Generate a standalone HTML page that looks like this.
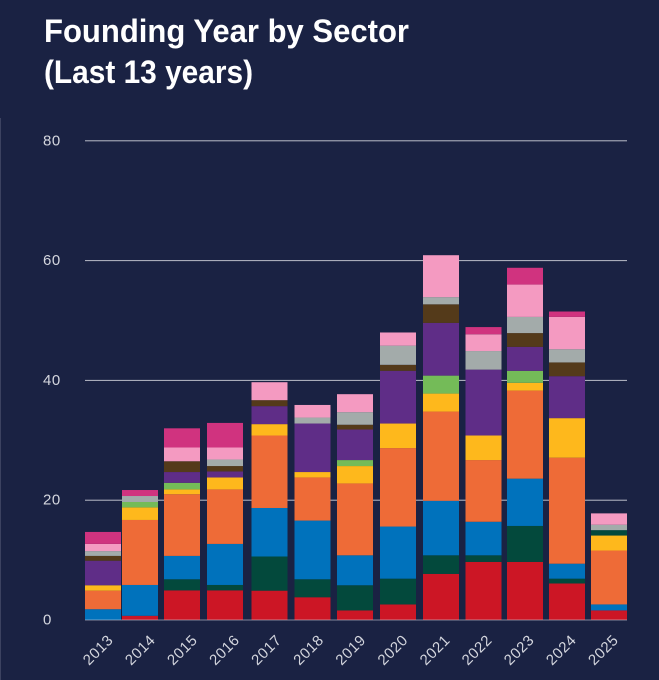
<!DOCTYPE html>
<html lang="en">
<head>
<meta charset="utf-8">
<title>Founding Year by Sector</title>
<style>
  html, body { margin: 0; padding: 0; background: #1a2243; }
  body { width: 659px; height: 680px; overflow: hidden; position: relative; }
  svg { display: block; position: absolute; left: 0; top: 0; }
  text { font-family: "Liberation Sans", sans-serif; }
  .chart-title { font-size: 32px; font-weight: 700; fill: #ffffff; }
  .tick-label { font-size: 15px; letter-spacing: 0.5px; fill: #d4d6de; }
</style>
</head>
<body>
<svg id="chart" width="659" height="680" viewBox="0 0 659 680" xmlns="http://www.w3.org/2000/svg">
  <rect x="0" y="0" width="659" height="680" fill="#1a2243"></rect>
  <rect x="0" y="118" width="1" height="562" fill="#3c4260"></rect>
  <text class="chart-title" x="44" y="42" textLength="365" lengthAdjust="spacingAndGlyphs">Founding Year by Sector</text>
  <text class="chart-title" x="44" y="83" textLength="209" lengthAdjust="spacingAndGlyphs">(Last 13 years)</text>
  <g id="grid"></g>
  <g id="bars"></g>
  <g id="overlay"></g>
  <g id="y-axis"></g>
  <g id="x-axis"></g>
</svg>
<script>
const years = ["2013","2014","2015","2016","2017","2018","2019","2020","2021","2022","2023","2024","2025"];
const yTicks = [0, 20, 40, 60, 80];

const seriesRed      = [0, 0.7, 4.95, 4.95, 4.9, 3.8, 1.6, 2.6, 7.7, 9.7, 9.7, 6.1, 1.6];
const seriesTeal     = [0, 0, 1.85, 0.9, 5.7, 3, 4.2, 4.3, 3.1, 1.1, 6, 0.8, 0];
const seriesBlue     = [1.8, 5.15, 3.9, 6.85, 8.1, 9.8, 5, 8.7, 9.1, 5.6, 7.9, 2.5, 1];
const seriesOrange   = [3.1, 10.85, 10.3, 9.1, 12.1, 7.2, 12, 13.1, 14.9, 10.3, 14.7, 17.7, 9];
const seriesYellow   = [0.9, 2.1, 0.8, 2, 1.9, 0.9, 2.9, 4.1, 3, 4.1, 1.3, 6.6, 2.5];
const seriesTealTop  = [0, 0, 0, 0, 0, 0, 0, 0, 0, 0, 0, 0, 0.9];
const seriesGreen    = [0, 0.9, 1.1, 0, 0, 0, 1, 0, 3, 0, 2, 0, 0];
const seriesPurple   = [4.1, 0, 1.8, 1, 3, 8.1, 5.1, 8.8, 8.8, 11, 4, 7, 0];
const seriesBrown    = [0.8, 0, 1.8, 0.9, 1, 0, 0.8, 1, 3.1, 0, 2.3, 2.3, 0];
const seriesGray     = [0.8, 1, 0, 1.1, 0, 1, 2.1, 3.2, 1.2, 3.1, 2.7, 2.2, 0.9];
const seriesPink     = [1.2, 0, 2.3, 2, 3, 2.1, 3, 2.2, 7, 2.8, 5.4, 5.4, 1.9];
const seriesMagenta  = [2, 1, 3.2, 4.1, 0, 0, 0, 0, 0, 1.2, 2.8, 0.9, 0];

const stackOrder = [seriesRed, seriesTeal, seriesBlue, seriesOrange, seriesYellow, seriesTealTop, seriesGreen, seriesPurple, seriesBrown, seriesGray, seriesPink, seriesMagenta];
const stackNames = ["red", "teal", "blue", "orange", "yellow", "teal-top", "green", "purple", "brown", "gray", "pink", "magenta"];

/* Styling and layout, kept apart from the data above */
const stackColors = ["#cc1625", "#03493c", "#0072bc", "#ee6b37", "#feb81c", "#03493c", "#74bb58", "#5f2d87", "#543a1a", "#a3abaa", "#f49ac1", "#d0337f"];
const bandNudge = [0, -5, -5, -4, -1.5, -0.5, 0, 1, 2, 2.5, 2, 2, 2];
const plotLeft = 85, plotRight = 627, plotBase = 620, pxPerUnit = 5.99, bandStep = 42, barWidth = 36;

const yScale = v => plotBase - v * pxPerUnit;
const xScale = i => plotLeft + bandStep * i + bandNudge[i];
const labelX = i => 98 + 42.1 * i;

const NS = "http://www.w3.org/2000/svg";
const make = (tag, parent) => { const el = document.createElementNS(NS, tag); parent.appendChild(el); return el; };

const gridG = document.getElementById("grid");
const barsG = document.getElementById("bars");
const overlayG = document.getElementById("overlay");
const yAxisG = document.getElementById("y-axis");
const xAxisG = document.getElementById("x-axis");

yTicks.forEach(t => {
  const parent = t === 0 ? overlayG : gridG;
  const line = make("rect", parent);
  line.setAttribute("x", plotLeft);
  line.setAttribute("y", yScale(t) - 0.5);
  line.setAttribute("width", plotRight - plotLeft);
  line.setAttribute("height", 1);
  line.setAttribute("fill", t === 0 ? "rgba(200,203,215,0.6)" : "#b9bcc8");
  
  

  const label = make("text", yAxisG);
  label.setAttribute("class", "tick-label");
  label.setAttribute("x", 43);
  label.setAttribute("y", yScale(t) + 4.5);
  label.textContent = String(t);
  
  
});

years.forEach((year, i) => {
  let cum = 0;
  stackOrder.forEach((series, s) => {
    const v = series[i];
    if (v <= 0) return;
    const top = yScale(cum + v);
    const bottom = yScale(cum);
    const seg = make("rect", barsG);
    seg.setAttribute("x", xScale(i));
    seg.setAttribute("y", top);
    seg.setAttribute("width", barWidth);
    seg.setAttribute("height", bottom - top);
    seg.setAttribute("fill", stackColors[s]);
    
    
    cum += v;
  });

  const cx = labelX(i);
  const label = make("text", xAxisG);
  label.setAttribute("class", "tick-label");
  label.setAttribute("x", cx);
  label.setAttribute("y", 655);
  label.setAttribute("text-anchor", "middle");
  label.setAttribute("transform", "rotate(-45 " + cx + " 650)");
  label.textContent = year;
  
  
});
</script>
</body>
</html>
